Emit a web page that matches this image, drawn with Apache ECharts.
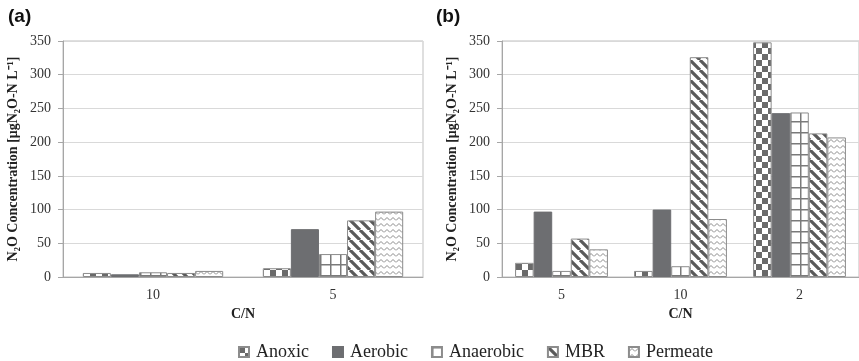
<!DOCTYPE html>
<html>
<head>
<meta charset="utf-8">
<script src="https://cdn.jsdelivr.net/npm/echarts@6/dist/echarts.min.js"></script>
<style>
  html, body { margin: 0; padding: 0; background: #fff; }
  #chart { width: 859px; height: 361px; }
</style>
</head>
<body>
<div id="chart"></div>
<script>
// data
var seriesNames = ['Anoxic', 'Aerobic', 'Anaerobic', 'MBR', 'Permeate'];
var catsA = ['10', '5'];
var catsB = ['5', '10', '2'];
var anoxicA = [6, 13];
var aerobicA = [4, 71];
var anaerobicA = [7, 34];
var mbrA = [6, 84];
var permeateA = [9, 97];
var anoxicB = [21, 9, 348];
var aerobicB = [97, 100, 243];
var anaerobicB = [9, 16, 244];
var mbrB = [57, 326, 213];
var permeateB = [41, 86, 207];

var serif = '"Liberation Serif", "Times New Roman", serif';

// fill patterns drawn on small canvases
function makeCanvas(w, h, draw) {
    var c = document.createElement('canvas');
    c.width = w; c.height = h;
    var ctx = c.getContext('2d');
    ctx.fillStyle = '#fff';
    ctx.fillRect(0, 0, w, h);
    draw(ctx);
    return { image: c, repeat: 'repeat' };
}
var checker = makeCanvas(12, 12, function (ctx) {
    ctx.fillStyle = '#6a6a6a';
    ctx.fillRect(0, 0, 6, 6);
    ctx.fillRect(6, 6, 6, 6);
});
var gridFill = makeCanvas(10, 11, function (ctx) {
    ctx.strokeStyle = '#7a7a7a';
    ctx.lineWidth = 1.5;
    ctx.beginPath();
    ctx.moveTo(0.75, 0); ctx.lineTo(0.75, 11);
    ctx.moveTo(0, 0.75); ctx.lineTo(10, 0.75);
    ctx.stroke();
});
var stripes = makeCanvas(10, 10, function (ctx) {
    ctx.strokeStyle = '#5a5a5a';
    ctx.lineWidth = 3.2;
    ctx.beginPath();
    for (var k = -10; k <= 10; k += 10) {
        ctx.moveTo(k, 0); ctx.lineTo(k + 10, 10);
    }
    ctx.stroke();
});
var waves = makeCanvas(6, 6, function (ctx) {
    ctx.strokeStyle = '#8a8a8a';
    ctx.lineWidth = 1;
    ctx.beginPath();
    ctx.moveTo(0, 4.5); ctx.lineTo(3, 1.5); ctx.lineTo(6, 4.5);
    ctx.stroke();
});
var fills = [checker, '#6d6e71', gridFill, stripes, waves];

var chart = echarts.init(document.getElementById('chart'));

function xAxisFor(cats, idx) {
    return {
        type: 'category', gridIndex: idx, data: cats,
        name: 'C/N', nameLocation: 'middle', nameGap: 30,
        nameTextStyle: { fontFamily: serif, fontWeight: 'bold', fontSize: 14, color: '#222' },
        axisLine: { lineStyle: { color: '#a6a6a6' } },
        axisTick: { length: 5, lineStyle: { color: '#a6a6a6' } },
        axisLabel: { fontFamily: serif, fontSize: 14, color: '#333', margin: 11 },
        splitLine: { show: false }
    };
}
function yAxisFor(idx) {
    return {
        type: 'value', gridIndex: idx, min: 0, max: 350, interval: 50,
        name: 'N\u2082O Concentration [\u03bcgN\u2082O-N L\u207b\u00b9]',
        nameLocation: 'middle', nameRotate: 90, nameGap: 43,
        nameTextStyle: { fontFamily: serif, fontWeight: 'bold', fontSize: 14, color: '#222' },
        axisLine: { show: true, lineStyle: { color: '#a6a6a6' } },
        axisTick: { show: true, length: 5, lineStyle: { color: '#a6a6a6' } },
        axisLabel: { fontFamily: serif, fontSize: 14, color: '#333', margin: 12 },
        splitLine: { lineStyle: { color: '#d9d9d9' } }
    };
}

var dataA = [anoxicA, aerobicA, anaerobicA, mbrA, permeateA];
var dataB = [anoxicB, aerobicB, anaerobicB, mbrB, permeateB];
var series = [];
seriesNames.forEach(function (name, i) {
    var style = { color: fills[i], borderColor: i === 1 ? '#6d6e71' : '#8c8c8c', borderWidth: 1 };
    series.push({
        name: name, type: 'bar', xAxisIndex: 0, yAxisIndex: 0,
        data: dataA[i], barGap: '0%', barCategoryGap: '22%', itemStyle: style
    });
    series.push({
        name: name, type: 'bar', xAxisIndex: 1, yAxisIndex: 1,
        data: dataB[i], barGap: '0%', barCategoryGap: '22%', itemStyle: style
    });
});

var option = {
    animation: false,
    backgroundColor: '#fff',
    title: [
        { text: '(a)', left: 3, top: 2, textStyle: { fontFamily: 'Liberation Sans, Arial', fontWeight: 'bold', fontSize: 19, color: '#111' } },
        { text: '(b)', left: 431, top: 2, textStyle: { fontFamily: 'Liberation Sans, Arial', fontWeight: 'bold', fontSize: 19, color: '#111' } }
    ],
    legend: {
        data: seriesNames, left: 233, top: 338, icon: 'rect',
        itemWidth: 10, itemHeight: 10, itemGap: 23,
        textStyle: { fontFamily: serif, fontSize: 18, color: '#222', padding: [0, 0, 0, 2] }
    },
    grid: [
        { left: 63, top: 41, width: 360, height: 236, show: true, borderColor: '#bfbfbf', borderWidth: 1 },
        { left: 502, top: 41, width: 360, height: 236, show: true, borderColor: '#bfbfbf', borderWidth: 1 }
    ],
    xAxis: [xAxisFor(catsA, 0), xAxisFor(catsB, 1)],
    yAxis: [yAxisFor(0), yAxisFor(1)],
    series: series
};

chart.setOption(option);
</script>
</body>
</html>
